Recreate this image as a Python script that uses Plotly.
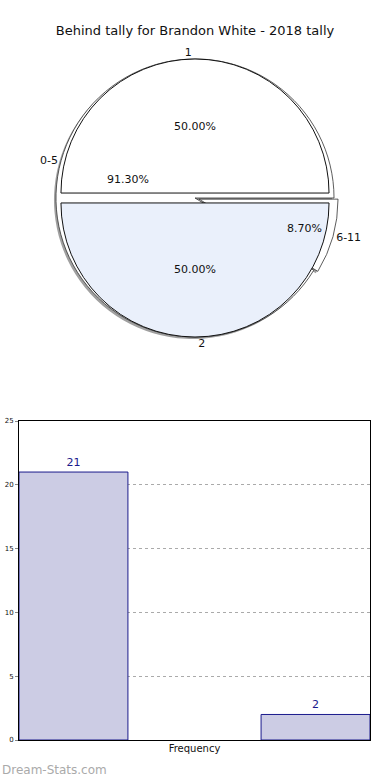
import plotly.graph_objects as go

# ---- data ----
title_text = "Behind tally for Brandon White - 2018 tally"
range_labels = ["0-5", "6-11"]
range_counts = [21, 2]
range_pull = [0, 0.03]
half_labels = ["1", "2"]
half_counts = [1, 1]
half_pull = [0.037, 0.037]
bar_x = [0, 1]
bar_values = [21, 2]
y_ticks = [0, 5, 10, 15, 20, 25]
x_title = "Frequency"
watermark = "Dream-Stats.com"

FONT = "DejaVu Sans"
W, H = 390, 780


def dom(cx, cy, half):
    return dict(x=[(cx - half) / W, (cx + half) / W],
                y=[1 - (cy + half) / H, 1 - (cy - half) / H])


CX, CY = 195, 198
front_dom = dom(CX, CY, 139)
back_dom = dom(CX, CY, 143.2)
shadow_dom = dom(CX - 2, CY + 2, 143.2)
ROT = 90
DIR = "clockwise"

# plotly draws these slices clockwise; feed reversed order to get the
# reference's counter-clockwise layout
rl, rc, rp = range_labels[::-1], range_counts[::-1], range_pull[::-1]
hl, hc, hp = half_labels[::-1], half_counts[::-1], half_pull[::-1]

fig = go.Figure()


def pie(labels, values, pull, domain, colors, line, **kw):
    return go.Pie(labels=labels, values=values, sort=False, direction=DIR,
                  rotation=ROT, pull=pull, domain=domain,
                  marker=dict(colors=colors, line=line),
                  hoverinfo="skip", showlegend=False, **kw)


txt = dict(family=FONT, size=11, color="#111111")

# shadow of the back pie
fig.add_trace(pie(rl, rc, rp, shadow_dom, ["#a0a0a0"] * 2, dict(width=0),
                  textinfo="none"))
# back pie (ranges)
fig.add_trace(pie(rl, rc, rp, back_dom, ["#ffffff"] * 2,
                  dict(color="#333333", width=0.8), textinfo="none"))
# front pie (halves) with its percentages
fig.add_trace(pie(hl, hc, hp, front_dom, ["#eaf0fb", "#ffffff"],
                  dict(color="#111111", width=1),
                  texttemplate="%{percent:.2%}", textposition="inside",
                  insidetextorientation="horizontal", textfont=txt))
# percentages of the back pie, drawn on top
fig.add_trace(pie(rl, rc, rp, back_dom, ["rgba(0,0,0,0)"] * 2, dict(width=0),
                  texttemplate="%{percent:.2%}", textposition="inside",
                  insidetextorientation="horizontal", textfont=txt))
# outside labels
fig.add_trace(pie(rl, rc, rp, back_dom, ["rgba(0,0,0,0)"] * 2, dict(width=0),
                  textinfo="label", textposition="outside", textfont=txt))
fig.add_trace(pie(hl, hc, hp, front_dom, ["rgba(0,0,0,0)"] * 2, dict(width=0),
                  textinfo="label", textposition="outside", textfont=txt))

# bar chart
fig.add_trace(go.Bar(
    x=bar_x, y=bar_values, width=0.45,
    marker=dict(color="#ccccE4", line=dict(color="#1a1a8c", width=1)),
    text=bar_values, textposition="outside", cliponaxis=False,
    textfont=dict(family=FONT, size=11, color="#1a1a8c"),
    hoverinfo="skip", showlegend=False))

fig.update_layout(
    width=W, height=H,
    margin=dict(l=0, r=0, t=0, b=0, autoexpand=False),
    paper_bgcolor="white", plot_bgcolor="white",
    font=dict(family=FONT, color="#111111"),
    title=dict(text=title_text, x=0.5, xanchor="center", y=1 - 30 / H,
               yanchor="middle", font=dict(family=FONT, size=13, color="#111111")),
    xaxis=dict(domain=[19 / W, 370 / W], range=[-0.225, 1.225], automargin=False,
               showticklabels=False, ticks="", showgrid=False, zeroline=False,
               showline=True, linecolor="black", linewidth=1, mirror=True,
               title=dict(text=x_title, standoff=4,
                          font=dict(family=FONT, size=10, color="#111111"))),
    yaxis=dict(domain=[1 - 740 / H, 1 - 421 / H], range=[0, 25], automargin=False,
               tickvals=y_ticks, ticks="outside", ticklen=3, tickcolor="#888888",
               tickfont=dict(family=FONT, size=7, color="#111111"),
               showgrid=True, gridcolor="#aaaaaa", griddash="dot", gridwidth=1,
               zeroline=False, showline=True, linecolor="black", linewidth=1,
               mirror=True),
    annotations=[dict(text=watermark, x=0, y=1 - 770 / H, xref="paper", yref="paper",
                      xanchor="left", yanchor="middle", showarrow=False,
                      font=dict(family=FONT, size=12, color="#aaaaaa"))],
)

fig.write_html("out.html", config=dict(displayModeBar=False),
               post_script="document.body.style.margin='0';document.body.style.padding='0';")
